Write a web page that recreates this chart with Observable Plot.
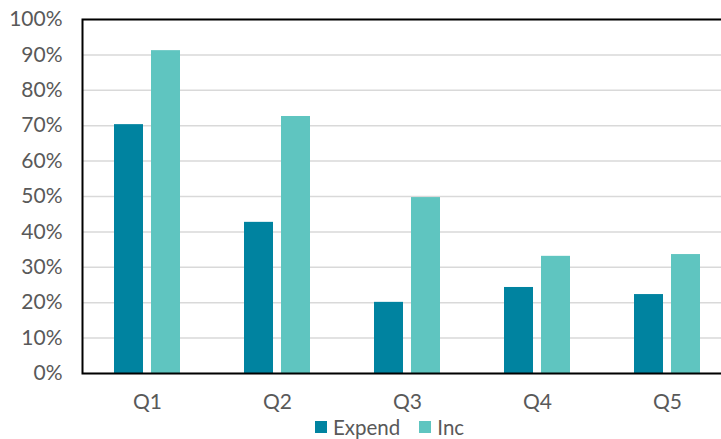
<!DOCTYPE html>
<html>
<head>
<meta charset="utf-8">
<script src="https://cdn.jsdelivr.net/npm/d3@7"></script>
<script src="https://cdn.jsdelivr.net/npm/@observablehq/plot@0.6"></script>
<style>
  html, body { margin: 0; padding: 0; background: #fff; overflow: hidden; width: 721px; height: 439px; }
  #chart { position: relative; width: 721px; height: 439px; overflow: hidden; }
  #chart svg { max-width: none !important; display: block; }
  .legend { position: absolute; left: 315px; top: 413px; height: 28px; display: flex; align-items: center;
            font-family: Lato, sans-serif; font-size: 20.5px; color: #595959; }
  .legend .sw { width: 12px; height: 12px; display: inline-block; margin-right: 6px; }
  .legend .item { display: flex; align-items: center; margin-right: 19px; }
</style>
</head>
<body>
<div id="chart"></div>
<script>
const categories = ["Q1", "Q2", "Q3", "Q4", "Q5"];
const seriesNames = ["Expend", "Inc"];
const expend = [0.703, 0.427, 0.201, 0.243, 0.223];
const inc = [0.912, 0.726, 0.497, 0.331, 0.336];
const colors = ["#0083A0", "#5FC5C0"];
const yTicks = [0, 0.1, 0.2, 0.3, 0.4, 0.5, 0.6, 0.7, 0.8, 0.9, 1.0];

const expendData = categories.map((c, i) => ({cat: c, value: expend[i]}));
const incData = categories.map((c, i) => ({cat: c, value: inc[i]}));

const plot = Plot.plot({
  width: 733,
  height: 413,
  marginLeft: 82,
  marginRight: 1,
  marginTop: 19,
  marginBottom: 40,
  style: {fontFamily: "Lato, sans-serif", fontSize: "21px", color: "#595959", background: "transparent", overflow: "visible", maxWidth: "none"},
  x: {domain: categories, padding: 0, label: null},
  y: {domain: [0, 1], label: null},
  marks: [
    Plot.gridY(yTicks, {stroke: "#d9d9d9", strokeOpacity: 1, strokeWidth: 1.5}),
    Plot.barY(expendData, {x: "cat", y: "value", fill: colors[0], insetLeft: 32, insetRight: 69}),
    Plot.barY(incData, {x: "cat", y: "value", fill: colors[1], insetLeft: 69, insetRight: 32}),
    Plot.axisY(yTicks, {tickFormat: d3.format(".0%"), tickSize: 0, tickPadding: 20, label: null, fill: "#595959"}),
    Plot.axisX({tickSize: 0, tickPadding: 21, label: null, fill: "#595959"}),
    Plot.frame({stroke: "#000", strokeWidth: 2})
  ]
});
const chart = document.getElementById("chart");
chart.appendChild(plot);

const legend = document.createElement("div");
legend.className = "legend";
seriesNames.forEach((name, i) => {
  const item = document.createElement("span");
  item.className = "item";
  const sw = document.createElement("span");
  sw.className = "sw";
  sw.style.background = colors[i];
  item.appendChild(sw);
  item.appendChild(document.createTextNode(name));
  legend.appendChild(item);
});
chart.appendChild(legend);
</script>
</body>
</html>
